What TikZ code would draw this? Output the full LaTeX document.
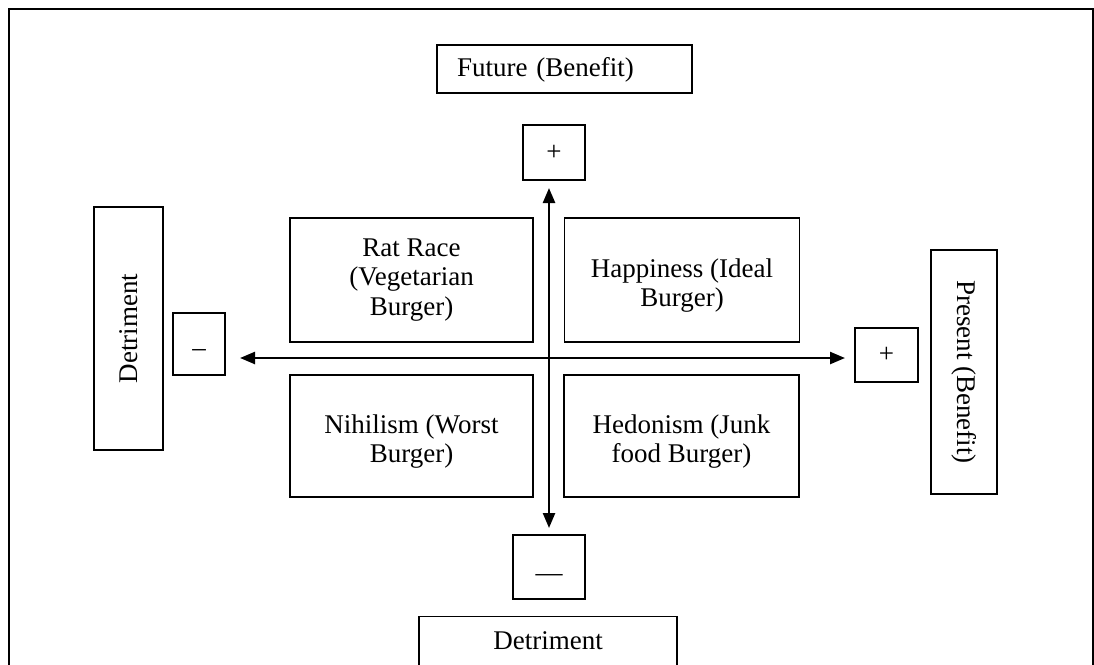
\documentclass[tikz,border=0pt]{standalone}
\usepackage{fontspec}
\setmainfont{Liberation Serif}
\usetikzlibrary{arrows.meta}
\tikzset{
  box/.style={draw=black, line width=1.4pt, inner sep=0pt, align=center,
    font=\fontsize{27}{29.5}\selectfont},
  axis/.style={line width=2.4pt, {Triangle[length=15pt,width=12pt]}-{Triangle[length=15pt,width=12pt]}},
}
\begin{document}
\begin{tikzpicture}[x=1pt,y=-1pt]
\useasboundingbox (0,0) rectangle (1094,664);
\clip (0,0) rectangle (1094,664);
\draw[line width=2pt] (9,9) rectangle (1093,720);

\node[box, minimum width=255pt, minimum height=48pt, text width=215pt, align=left, text height=19pt, text depth=4pt] (future) at (564.5,69) {Future (Benefit)};
\node[box, minimum width=62pt, minimum height=55pt] (ptop) at (554,152.5) {+};
\node[box, minimum width=72pt, minimum height=64pt, text height=30pt, text depth=1pt] (pbot) at (549,567) {—};
\node[box, anchor=north, minimum width=258pt, inner ysep=14pt, text height=19pt, text depth=60pt] (bdet) at (548,616) {Detriment};

\node[box, rotate=90, minimum width=243pt, minimum height=69pt] (ldet) at (128.5,328.5) {Detriment};
\node[box, minimum width=52pt, minimum height=62pt, text height=26pt, text depth=1pt] (mleft) at (199,344) {–};
\node[box, minimum width=63pt, minimum height=54pt] (pright) at (886.5,355) {+};
\node[box, rotate=-90, minimum width=244pt, minimum height=66pt] (pres) at (964,372) {Present (Benefit)};

\node[box, minimum width=243pt, minimum height=124pt] (ratrace) at (411.5,280) {Rat Race\\(Vegetarian\\Burger)};
\node[box, minimum width=235pt, minimum height=124pt] (happy) at (682,280) {\mbox{}\\Happiness (Ideal\\Burger)};
\node[box, minimum width=243pt, minimum height=122pt] (nihil) at (411.5,436) {\mbox{}\\Nihilism (Worst\\Burger)};
\node[box, minimum width=235pt, minimum height=122pt] (hedon) at (681.5,436) {\mbox{}\\Hedonism (Junk\\food Burger)};

\coordinate (hl) at (240,358);
\coordinate (hr) at (845,358);
\coordinate (vt) at (549,188);
\coordinate (vb) at (549,528);
\draw[axis] (hl) -- (hr);
\draw[axis] (vt) -- (vb);
\end{tikzpicture}
\end{document}
